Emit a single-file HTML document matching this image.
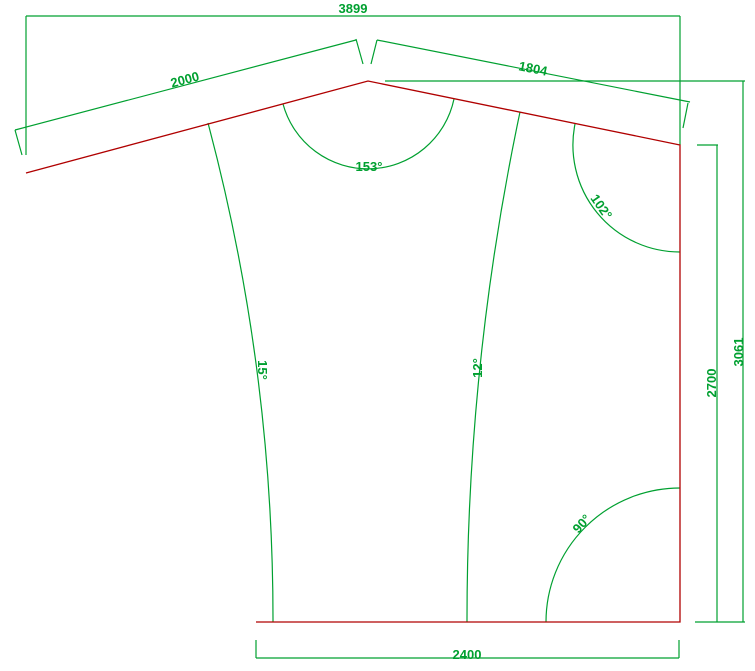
<!DOCTYPE html>
<html><head><meta charset="utf-8"><style>
html,body{margin:0;padding:0;background:#fff;}
svg{display:block;}
text{font-family:"Liberation Sans",sans-serif;font-size:13px;font-weight:bold;fill:#00a030;}
</style></head><body>
<svg width="755" height="671" viewBox="0 0 755 671">
<g stroke="#00a030" stroke-width="1.2" fill="none">
  <path d="M26,16 H680 M26,16 V155 M680,16 V145"/>
  <path d="M15,130 L356,40 M15,130 L22,155 M356,39 L363,64"/>
  <path d="M377,40 L690,102 M377,40 L371,64 M688,103 L683,128"/>
  <path d="M385,81 H745 M743,81 V622 M695,622 H745"/>
  <path d="M697,145 H718 M717,145 V622"/>
  <path d="M256,658 H679 M256,640 V658 M679,640 V658"/>
  <path d="M283,104 A88,88 0 0 0 454,99"/>
  <path d="M575,124 A107,107 0 0 0 680,252"/>
  <path d="M546,622 A134,134 0 0 1 680,488"/>
  <path d="M208,123 A1927,1927 0 0 1 273,622"/>
  <path d="M520,112 A2454,2454 0 0 0 467,622"/>
</g>
<g stroke="#b00000" stroke-width="1.3" fill="none">
  <path d="M26,173 L368,81 L680,145 V622 H256"/>
</g>
<text x="353" y="13" text-anchor="middle">3899</text>
<text x="185" y="84" text-anchor="middle" transform="rotate(-15 185 80)">2000</text>
<text x="533" y="73" text-anchor="middle" transform="rotate(11.3 533 69)">1804</text>
<text x="369" y="171" text-anchor="middle">153°</text>
<text x="601" y="211" text-anchor="middle" transform="rotate(55 601 207)">102°</text>
<text x="582" y="528" text-anchor="middle" transform="rotate(-48 582 524)">90°</text>
<text x="262" y="374" text-anchor="middle" transform="rotate(90 262 370)">15°</text>
<text x="478" y="372" text-anchor="middle" transform="rotate(-90 478 368)">12°</text>
<text x="712" y="387" text-anchor="middle" transform="rotate(-90 712 383)">2700</text>
<text x="739" y="356" text-anchor="middle" transform="rotate(-90 739 352)">3061</text>
<text x="467" y="659" text-anchor="middle">2400</text>
</svg>
</body></html>
